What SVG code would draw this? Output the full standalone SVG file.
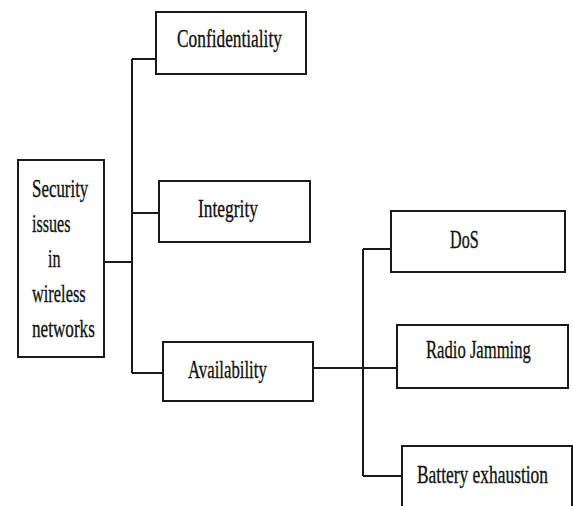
<svg xmlns="http://www.w3.org/2000/svg" width="573" height="506" viewBox="0 0 573 506">
<style>
.box{fill:#fff;stroke:#1a1a1a;stroke-width:2}
.ln{fill:none;stroke:#1a1a1a;stroke-width:2}
text{font-family:"Liberation Serif","Times New Roman",serif;font-size:26px;fill:#111;stroke:#111;stroke-width:0.35}
</style>
<rect width="573" height="506" fill="#fff"/>
<g id="connectors">
<path class="ln" d="M104,262H132M132,59V373M132,59H156M132,213H159M132,373H163"/>
<path class="ln" d="M313,368H397M363,249V476M363,249H391M363,476H402"/>
</g>
<g id="security">
<rect class="box" x="18" y="160" width="86" height="197"/>
<text transform="translate(32,197) scale(0.65,1)">Security</text>
<text transform="translate(32,232) scale(0.62,1)">issues</text>
<text transform="translate(48,267) scale(0.62,1)">in</text>
<text transform="translate(32,302) scale(0.63,1)">wireless</text>
<text transform="translate(32,337) scale(0.66,1)">networks</text>
</g>
<g id="confidentiality">
<rect class="box" x="156" y="12" width="150" height="62"/>
<text transform="translate(177,47) scale(0.667,1)">Confidentiality</text>
</g>
<g id="integrity">
<rect class="box" x="159" y="181" width="151" height="61"/>
<text transform="translate(198,217) scale(0.67,1)">Integrity</text>
</g>
<g id="availability">
<rect class="box" x="163" y="342" width="150" height="59"/>
<text transform="translate(188,378) scale(0.645,1)">Availability</text>
</g>
<g id="dos">
<rect class="box" x="391" y="211" width="174" height="61"/>
<text transform="translate(450,248) scale(0.62,1)">DoS</text>
</g>
<g id="radio-jamming">
<rect class="box" x="397" y="325" width="171" height="63"/>
<text transform="translate(426,358) scale(0.64,1)">Radio Jamming</text>
</g>
<g id="battery-exhaustion">
<rect class="box" x="402" y="446" width="170" height="70"/>
<text transform="translate(417,483) scale(0.67,1)">Battery exhaustion</text>
</g>
</svg>
